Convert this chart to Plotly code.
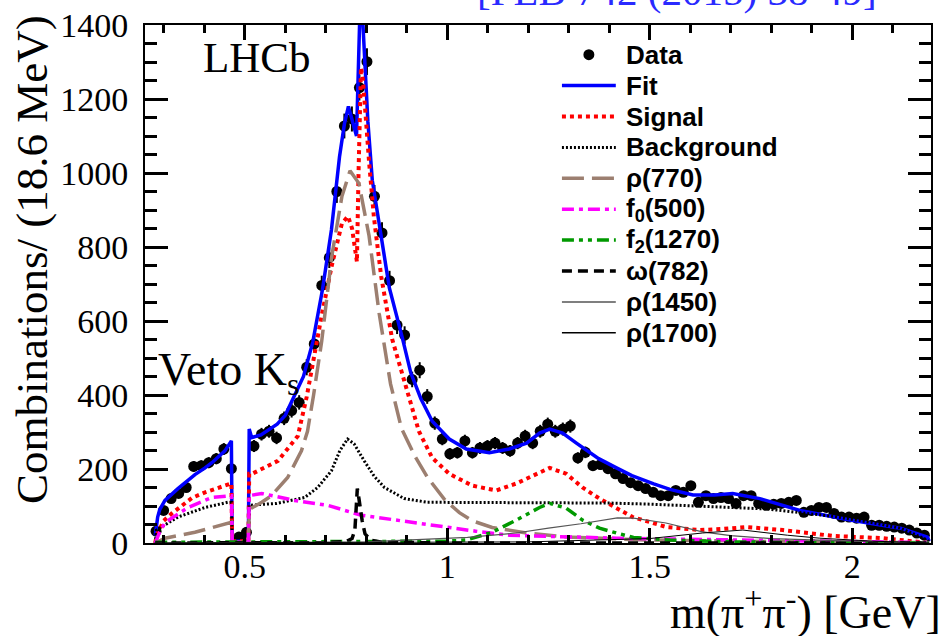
import numpy as np
import plotly.graph_objects as go

# ---------------- data ----------------
BIN_WIDTH = 0.0186          # GeV, 18.6 MeV bins
FIRST_BIN_CENTER = 0.281    # GeV

DATA_Y = [32, 88, 120, 134, 150, 207, 209, 217, 228, 254,
          201, 16, 29, 262, 294, 302, 284, 337, 358, 380,
          475, 538, 696, 771, 950, 1127, 1146, 1231, 1301, 937,
          838, 709, 589, 562, 442, 467, 396, 324, 281, 241,
          244, 276, 244, 257, 262, 270, 257, 249, 270, 289,
          270, 302, 321, 302, 308, 316, 230, 245, 209, 212,
          201, 187, 174, 163, 155, 147, 137, 128, 128, 142,
          137, 155, 110, 128, 120, 123, 120, 107, 128, 128,
          107, 102, 105, 107, 110, 115, 83, 88, 96, 96,
          80, 70, 70, 67, 70, 48, 48, 45, 43, 40,
          35, 27, 21]
DATA_X = [round(FIRST_BIN_CENTER + BIN_WIDTH * i, 4) for i in range(len(DATA_Y))]
DATA_ERR = np.sqrt(np.array(DATA_Y, dtype=float))

FIT_X = [0.279, 0.285, 0.29, 0.303, 0.335, 0.377, 0.402, 0.419, 0.451, 0.467, 0.469, 0.509,
         0.511, 0.517, 0.54, 0.58, 0.60, 0.62, 0.645, 0.668, 0.692, 0.714, 0.734, 0.746,
         0.756, 0.766, 0.776, 0.781, 0.786, 0.791, 0.797, 0.804, 0.815, 0.837, 0.857, 0.889,
         0.91, 0.935, 0.963, 1.005, 1.047, 1.104, 1.153, 1.196, 1.228, 1.253, 1.285, 1.319,
         1.359, 1.374, 1.418, 1.456, 1.51, 1.55, 1.607, 1.66, 1.705, 1.772, 1.871, 1.995,
         2.119, 2.186, 2.19]
FIT_Y = [20, 70, 90, 115, 147, 185, 203, 217, 249, 276, 5, 5,
         308, 285, 292, 321, 345, 390, 450, 543, 685, 846, 1044, 1132,
         1180, 1140, 1100, 1300, 1500, 1420, 1290, 1140, 980, 830, 690, 555,
         460, 390, 329, 281, 254, 244, 254, 270, 297, 308, 297, 270,
         241, 228, 203, 182, 160, 145, 130, 130, 134, 120, 88, 62,
         40, 16, 5]

SIG_X = [0.279, 0.282, 0.30, 0.32, 0.37, 0.402, 0.467, 0.469, 0.509, 0.511, 0.518, 0.582,
         0.631, 0.653, 0.69, 0.715, 0.74, 0.755, 0.765, 0.777, 0.781, 0.787, 0.792, 0.80,
         0.807, 0.819, 0.837, 0.864, 0.898, 0.93, 0.963, 1.005, 1.062, 1.121, 1.171, 1.21,
         1.253, 1.294, 1.334, 1.376, 1.418, 1.458, 1.542, 1.624, 1.68, 1.74, 1.829, 1.953,
         2.077, 2.186, 2.19]
SIG_Y = [0, 20, 60, 80, 122, 137, 161, 5, 5, 187, 187, 222,
         289, 395, 615, 750, 864, 883, 850, 760, 1000, 1285, 1250, 1120,
         1030, 880, 720, 551, 418, 302, 230, 187, 155, 142, 161, 182,
         203, 187, 150, 120, 94, 70, 43, 35, 38, 43, 35, 19,
         13, 3, 0]

BKG_X = [0.279, 0.282, 0.335, 0.402, 0.458, 0.467, 0.469, 0.509, 0.511, 0.579, 0.648, 0.68,
         0.714, 0.735, 0.754, 0.77, 0.795, 0.82, 0.845, 0.894, 0.951, 1.047, 1.2, 1.4,
         1.5, 1.624, 1.79, 1.953, 2.05, 2.119, 2.186, 2.19]
BKG_Y = [0, 35, 70, 96, 110, 110, 3, 3, 102, 107, 123, 150,
         195, 250, 281, 268, 222, 180, 150, 120, 110, 110, 110, 108,
         105, 100, 92, 72, 55, 40, 8, 0]

RHO770_X = [0.279, 0.303, 0.377, 0.443, 0.467, 0.469, 0.509, 0.511, 0.516, 0.542, 0.566, 0.606,
            0.64, 0.655, 0.67, 0.69, 0.715, 0.74, 0.76, 0.782, 0.807, 0.832, 0.86, 0.887,
            0.92, 0.951, 0.993, 1.03, 1.062, 1.111, 1.196, 1.294, 1.5, 1.8, 2.19]
RHO770_Y = [0, 13, 29, 48, 56, 2, 2, 90, 94, 110, 128, 177,
            249, 302, 400, 545, 776, 937, 1006, 972, 830, 620, 430, 310,
            235, 178, 118, 82, 60, 42, 27, 16, 8, 4, 1]

F0_X = [0.279, 0.29, 0.303, 0.36, 0.419, 0.467, 0.469, 0.509, 0.511, 0.542, 0.623, 0.704,
        0.788, 0.911, 0.993, 1.07, 1.153, 1.294, 1.418, 1.6, 1.9, 2.19]
F0_Y = [0, 30, 55, 96, 123, 128, 2, 2, 128, 134, 115, 102,
        75, 56, 43, 32, 21, 16, 13, 10, 6, 1]

F2_X = [0.279, 0.6, 0.9, 1.0, 1.047, 1.111, 1.171, 1.228, 1.253, 1.294, 1.334, 1.376,
        1.418, 1.46, 1.55, 1.7, 1.9, 2.19]
F2_Y = [2, 3, 4, 5, 8, 29, 62, 96, 107, 94, 62, 40,
        27, 15, 8, 3, 1, 0]

OMEGA_X = [0.279, 0.70, 0.75, 0.765, 0.772, 0.776, 0.778, 0.782, 0.786, 0.79, 0.797, 0.81,
           0.84, 1.0, 2.19]
OMEGA_Y = [0, 1, 4, 12, 35, 90, 147, 120, 90, 60, 25, 8,
           2, 0, 0]

R1450_X = [0.279, 0.8, 1.05, 1.17, 1.25, 1.33, 1.42, 1.46, 1.54, 1.63, 1.70, 1.8, 2.0, 2.19]
R1450_Y = [0, 3, 15, 27, 40, 52, 68, 67, 54, 30, 20, 12, 5, 0]

R1700_X = [0.279, 1.2, 1.5, 1.63, 1.73, 1.84, 1.92, 2.05, 2.19]
R1700_Y = [0, 3, 12, 27, 35, 21, 13, 5, 0]

X_TICKS = [0.5, 1.0, 1.5, 2.0]
X_TICK_LABELS = ["0.5", "1", "1.5", "2"]
Y_TICKS = [0, 200, 400, 600, 800, 1000, 1200, 1400]
Y_TICK_LABELS = ["0", "200", "400", "600", "800", "1000", "1200", "1400"]

SERIF = "Liberation Serif"
SANS = "Liberation Sans"

# ---------------- geometry helpers (page pixels -> paper fractions) ----------------
W, H = 940, 636
ML, MR, MT, MB = 145, 7, 20, 93
PW, PH = W - ML - MR, H - MT - MB


def px(x):
    return (x - ML) / PW


def py(y):
    return (H - MB - y) / PH


# ---------------- figure ----------------
fig = go.Figure()

fig.add_trace(go.Scatter(
    x=DATA_X, y=DATA_Y, mode="markers", name="Data",
    marker=dict(color="black", size=11),
    error_y=dict(type="data", array=DATA_ERR, color="black", thickness=2, width=0),
))

curves = [
    ("Fit", FIT_X, FIT_Y, dict(color="#0000ff", width=3.5, dash="solid")),
    ("Signal", SIG_X, SIG_Y, dict(color="#ff0000", width=4, dash="4px,4px")),
    ("Background", BKG_X, BKG_Y, dict(color="black", width=3, dash="2px,2px")),
    ("ρ(770)", RHO770_X, RHO770_Y, dict(color="#9c7f70", width=3.5, dash="22px,8px")),
    ("f<sub>0</sub>(500)", F0_X, F0_Y, dict(color="#ff00ff", width=3.5, dash="12px,5px,4px,5px")),
    ("f<sub>2</sub>(1270)", F2_X, F2_Y, dict(color="#009900", width=3.5, dash="12px,5px,4px,5px,4px,5px")),
    ("ω(782)", OMEGA_X, OMEGA_Y, dict(color="black", width=3.5, dash="10px,6px")),
    ("ρ(1450)", R1450_X, R1450_Y, dict(color="#555555", width=1.2, dash="solid")),
    ("ρ(1700)", R1700_X, R1700_Y, dict(color="black", width=1.0, dash="solid")),
]
for name, xs, ys, line in curves:
    fig.add_trace(go.Scatter(x=xs, y=ys, mode="lines", name=name, line=line))

axis_common = dict(
    showline=True, linecolor="black", linewidth=2, mirror="ticks",
    ticks="inside", tickcolor="black", tickwidth=2.5,
    showgrid=False, zeroline=False,
    tickfont=dict(family=SERIF, size=34, color="black"),
)

fig.update_xaxes(
    range=[0.2537, 2.1946], tickmode="array", tickvals=X_TICKS, ticktext=X_TICK_LABELS,
    ticklen=15, ticklabelstandoff=-8,
    minor=dict(ticks="inside", ticklen=8, tickwidth=2.5, tickcolor="black",
               tickmode="linear", tick0=0, dtick=0.1, showgrid=False),
    **axis_common,
)
fig.update_yaxes(
    range=[0, 1400], tickmode="array", tickvals=Y_TICKS, ticktext=Y_TICK_LABELS,
    ticklen=23, ticklabelstandoff=8,
    minor=dict(ticks="inside", ticklen=12, tickwidth=2.5, tickcolor="black",
               tickmode="linear", tick0=0, dtick=50, showgrid=False),
    **axis_common,
)

annotations = [
    dict(text="LHCb", x=px(201), y=py(53), xanchor="left", yanchor="middle",
         font=dict(family=SERIF, size=43, color="black")),
    dict(text="Veto K<sub>s</sub>", x=px(156), y=0.329, xanchor="left", yanchor="middle",
         font=dict(family=SERIF, size=46, color="black")),
    dict(text="[PLB 742 (2015) 38-49]", x=px(476), y=1.065, xanchor="left", yanchor="middle",
         font=dict(family=SERIF, size=41, color="#2a2aff")),
    dict(text="m(π<sup>+</sup>π<sup>-</sup>) [GeV]", x=px(945), y=py(610), xanchor="right",
         yanchor="middle", font=dict(family=SERIF, size=46, color="black")),
    dict(text="Combinations/ (18.6 MeV)", x=px(31), y=py(257), xanchor="center",
         yanchor="middle", textangle=-90, font=dict(family=SERIF, size=45, color="black")),
]

# ---------------- legend drawn in the ROOT style (samples + bold labels) ----------------
LEGEND_LABELS = ["Data", "Fit", "Signal", "Background", "ρ(770)", "f<sub>0</sub>(500)",
                 "f<sub>2</sub>(1270)", "ω(782)", "ρ(1450)", "ρ(1700)"]
legend_styles = [None] + [c[3] for c in curves]
LEG_TOP, LEG_STEP = 50, 31.2
LEG_X0, LEG_X1, LEG_TX = 563, 617, 625
shapes = []
for i, (label, style) in enumerate(zip(LEGEND_LABELS, legend_styles)):
    yc = LEG_TOP + LEG_STEP * i
    annotations.append(dict(text="<b>" + label + "</b>", x=px(LEG_TX), y=py(yc),
                            xanchor="left", yanchor="middle",
                            font=dict(family=SANS, size=26, color="black")))
    if style is None:
        shapes.append(dict(type="circle", xref="paper", yref="paper",
                           x0=px(590 - 5.5), x1=px(590 + 5.5), y0=py(yc - 5.5), y1=py(yc + 5.5),
                           fillcolor="black", line=dict(color="black", width=0)))
    else:
        shapes.append(dict(type="line", xref="paper", yref="paper",
                           x0=px(LEG_X0), x1=px(LEG_X1), y0=py(yc), y1=py(yc),
                           line=dict(color=style["color"], width=max(style["width"], 1.5),
                                     dash=style["dash"])))

for a in annotations:
    a.update(xref="paper", yref="paper", showarrow=False)

fig.update_layout(
    width=W, height=H, autosize=False,
    margin=dict(l=ML, r=MR, t=MT, b=MB),
    paper_bgcolor="white", plot_bgcolor="white",
    showlegend=False,
    annotations=annotations,
    shapes=shapes,
)

fig.write_html("out.html")
